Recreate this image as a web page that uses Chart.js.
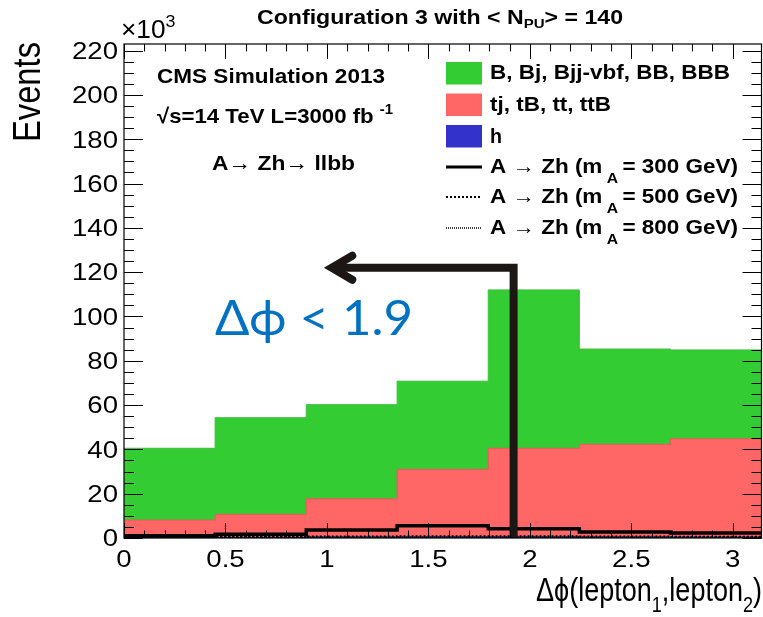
<!DOCTYPE html>
<html>
<head>
<meta charset="utf-8">
<script src="https://cdn.jsdelivr.net/npm/chart.js@4.4.0/dist/chart.umd.min.js"></script>
<style>
html, body { margin: 0; padding: 0; background: #fff; }
</style>
</head>
<body>
<canvas id="histo" width="763" height="617"></canvas>
<script>
// bin edges of delta phi (0 .. pi, 7 bins)
var binEdges = [0, 0.449, 0.898, 1.346, 1.795, 2.244, 2.693, 3.1416];
// background contributions per bin (x10^3 events)
var bkgB = [32.4, 43.6, 42.5, 39.8, 71.5, 43.0, 40.1];   // B, Bj, Bjj-vbf, BB, BBB
var bkgT = [7.9, 10.4, 17.3, 30.5, 40.0, 41.9, 44.5];    // tj, tB, tt, ttB
var bkgH = [0.2, 0.3, 0.4, 0.5, 0.5, 0.4, 0.3];          // h
// signal curves
var sig300 = [1.05, 1.7, 3.6, 5.5, 4.2, 2.7, 2.25];
var sig500 = [0.6, 0.6, 0.7, 0.8, 0.8, 0.7, 0.6];
var sig800 = [0.3, 0.3, 0.4, 0.4, 0.4, 0.4, 0.4];
// cut annotation
var cutValue = 1.92;
var arrowLevel = 122;
var arrowTip = 1.024;
var arrowHeadX = 1.125;
var arrowHeadHalf = 5.4;
var yMax = 223;

var FONT = '"Liberation Sans", Arial, sans-serif';

function steps(vals) {
	var pts = [];
	for (var i = 0; i < vals.length; i++) {
		pts.push({x: binEdges[i], y: vals[i]});
	}
	pts.push({x: binEdges[binEdges.length - 1], y: vals[vals.length - 1]});
	return pts;
}
function addUp(a, b) {
	var out = [];
	for (var i = 0; i < a.length; i++) out.push(a[i] + b[i]);
	return out;
}

var stackH = bkgH;
var stackT = addUp(stackH, bkgT);
var stackB = addUp(stackT, bkgB);

// draw a run of text pieces: [text, size, dy]
function drawRuns(ctx, runs, x, y, opt) {
	opt = opt || {};
	var weight = opt.bold ? 'bold ' : '';
	var family = opt.family || FONT;
	ctx.save();
	var w = 0;
	for (var i = 0; i < runs.length; i++) {
		ctx.font = weight + runs[i][1] + 'px ' + family;
		w += ctx.measureText(runs[i][0]).width;
	}
	var sx = opt.width ? opt.width / w : (opt.sx || 1);
	ctx.translate(x, y);
	if (opt.rotate) ctx.rotate(opt.rotate);
	ctx.scale(sx, opt.sy || 1);
	var cx = opt.align === 'center' ? -w / 2 : (opt.align === 'right' ? -w : 0);
	ctx.fillStyle = opt.color || '#000';
	ctx.textAlign = 'left';
	ctx.textBaseline = 'alphabetic';
	for (var j = 0; j < runs.length; j++) {
		ctx.font = weight + runs[j][1] + 'px ' + family;
		ctx.fillText(runs[j][0], cx, runs[j][2] || 0);
		cx += ctx.measureText(runs[j][0]).width;
	}
	ctx.restore();
}

var rootFrame = {
	id: 'rootFrame',
	afterDatasetsDraw: function(chart) {
		var ctx = chart.ctx;
		var a = chart.chartArea;
		var xs = chart.scales.x, ys = chart.scales.y;
		ctx.save();
		ctx.strokeStyle = '#000';
		ctx.lineWidth = 1;
		// ticks, pointing inward on all four sides
		ctx.beginPath();
		for (var v = 0; v <= 3.1; v += 0.1) {
			var px = Math.round(xs.getPixelForValue(v)) + 0.5;
			var major = Math.abs(v * 2 - Math.round(v * 2)) < 1e-6;
			var len = major ? 15 : 7.5;
			ctx.moveTo(px, a.bottom); ctx.lineTo(px, a.bottom - len);
			ctx.moveTo(px, a.top); ctx.lineTo(px, a.top + len);
		}
		for (var t = 0; t <= 220; t += 5) {
			var py = Math.round(ys.getPixelForValue(t)) + 0.5;
			var ylen = t % 20 === 0 ? 19 : 10;
			ctx.moveTo(a.left, py); ctx.lineTo(a.left + ylen, py);
			ctx.moveTo(a.right, py); ctx.lineTo(a.right - ylen, py);
		}
		ctx.stroke();
		ctx.lineWidth = 1.2;
		ctx.strokeRect(a.left, a.top, a.right - a.left, a.bottom - a.top);
		ctx.restore();

		// tick labels
		xs.ticks.forEach(function(tk) {
			drawRuns(ctx, [[String(tk.value), 23, 0]], xs.getPixelForValue(tk.value), 567, {align: 'center', sx: 1.2});
		});
		ys.ticks.forEach(function(tk) {
			drawRuns(ctx, [[String(tk.value), 23, 0]], 118, ys.getPixelForValue(tk.value) + 8.3, {align: 'right', sx: 1.2});
		});
	},
	afterDraw: function(chart) {
		var ctx = chart.ctx;
		// title
		drawRuns(ctx, [['Configuration 3 with < N', 20, 0], ['PU', 13, 4], ['> = 140', 20, 0]], 257, 24, {bold: true, width: 366});
		drawRuns(ctx, [['\u00d710', 25, 0], ['3', 17, -11]], 121, 38, {sx: 1.05});
		// axis titles
		drawRuns(ctx, [['Events', 33, 0]], 40, 42, {align: 'right', rotate: -Math.PI / 2, sy: 1.15, width: 100});
		drawRuns(ctx, [['\u0394\u03d5(lepton', 33, 0], ['1', 22, 11], [',lepton', 33, 0], ['2', 22, 11], [')', 33, 0]], 762, 601, {align: 'right', width: 226});
		// labels in the frame
		drawRuns(ctx, [['CMS Simulation 2013', 21, 0]], 157, 83, {bold: true, width: 228});
		drawRuns(ctx, [['\u221as=14 TeV L=3000 fb ', 21, 0], ['-1', 14, -9]], 157, 123, {bold: true, width: 236});
		drawRuns(ctx, [['A\u2192 Zh\u2192 llbb', 21, 0]], 212, 170, {bold: true, width: 143});

		// legend
		var boxes = [['#33cc33', 62, 'B, Bj, Bjj-vbf, BB, BBB', 79, 240], ['#ff6666', 93.5, 'tj, tB, tt, ttB', 111, 121], ['#3333cc', 125, 'h', 143, 12]];
		ctx.save();
		boxes.forEach(function(b) {
			ctx.fillStyle = b[0];
			ctx.fillRect(446, b[1], 36, 22.5);
			drawRuns(ctx, [[b[2], 20, 0]], 490, b[3], {bold: true, width: b[4]});
		});
		var lines = [['300', 173, [], 3], ['500', 203, [2, 2], 2], ['800', 234, [1, 1], 1.5]];
		lines.forEach(function(l) {
			ctx.save();
			ctx.strokeStyle = '#000';
			ctx.lineWidth = l[3];
			ctx.setLineDash(l[2]);
			ctx.beginPath();
			ctx.moveTo(446, l[1] - 6); ctx.lineTo(482, l[1] - 6);
			ctx.stroke();
			ctx.restore();
			drawRuns(ctx, [['A \u2192 Zh (m', 20, 0], [' A ', 14, 10], ['= ' + l[0] + ' GeV)', 20, 0]], 490, l[1], {bold: true, width: 248});
		});
		ctx.restore();

		// cut label
		drawRuns(ctx, [['\u0394\u03d5 < 1.9', 48, 0]], 215, 335, {width: 198, color: '#0070c0', family: 'Lato, "Open Sans", sans-serif'});
	}
};

var chart = new Chart(document.getElementById('histo'), {
	type: 'line',
	data: {
		datasets: [
			{ data: [{x: cutValue, y: 0}, {x: cutValue, y: arrowLevel}, {x: arrowTip, y: arrowLevel}],
				borderColor: '#1c1615', borderWidth: 8, borderJoinStyle: 'miter', borderCapStyle: 'butt', fill: false, order: -2 },
			{ data: [{x: arrowHeadX, y: arrowLevel + arrowHeadHalf}, {x: arrowTip, y: arrowLevel}, {x: arrowHeadX, y: arrowLevel - arrowHeadHalf}],
				borderColor: '#1c1615', borderWidth: 8, borderJoinStyle: 'miter', borderCapStyle: 'round', fill: false, order: -1 },
			{ label: 'A -> Zh (mA = 300 GeV)', data: steps(sig300), stepped: 'before', borderColor: '#000', borderWidth: 3.5, fill: false, order: 0 },
			{ label: 'A -> Zh (mA = 500 GeV)', data: steps(sig500), stepped: 'before', borderColor: '#000', borderWidth: 2, borderDash: [2, 2], fill: false, order: 1 },
			{ label: 'A -> Zh (mA = 800 GeV)', data: steps(sig800), stepped: 'before', borderColor: '#000', borderWidth: 1.5, borderDash: [1, 1], fill: false, order: 2 },
			{ label: 'h', data: steps(stackH), stepped: 'before', borderColor: '#3333cc', backgroundColor: '#3333cc', borderWidth: 1, fill: 'origin', order: 3 },
			{ label: 'tj, tB, tt, ttB', data: steps(stackT), stepped: 'before', borderColor: '#e85a5a', backgroundColor: '#ff6666', borderWidth: 1, fill: 'origin', order: 4 },
			{ label: 'B, Bj, Bjj-vbf, BB, BBB', data: steps(stackB), stepped: 'before', borderColor: '#3fbf3f', backgroundColor: '#33cc33', borderWidth: 1, fill: 'origin', order: 5 }
		]
	},
	options: {
		responsive: false,
		animation: false,
		devicePixelRatio: 1,
		layout: { padding: { top: 44, right: 1.5, left: 0, bottom: 0 } },
		elements: { point: { radius: 0 }, line: { tension: 0 } },
		plugins: { legend: { display: false }, tooltip: { enabled: false } },
		scales: {
			x: {
				type: 'linear', min: 0, max: binEdges[binEdges.length - 1],
				grid: { display: false, drawTicks: false }, border: { display: false },
				ticks: { display: false, stepSize: 0.5, includeBounds: false },
				afterFit: function(s) { s.height = 79; }
			},
			y: {
				type: 'linear', min: 0, max: yMax,
				grid: { display: false, drawTicks: false }, border: { display: false },
				ticks: { display: false, stepSize: 20, includeBounds: false },
				afterFit: function(s) { s.width = 124; }
			}
		}
	},
	plugins: [rootFrame]
});
</script>
</body>
</html>
